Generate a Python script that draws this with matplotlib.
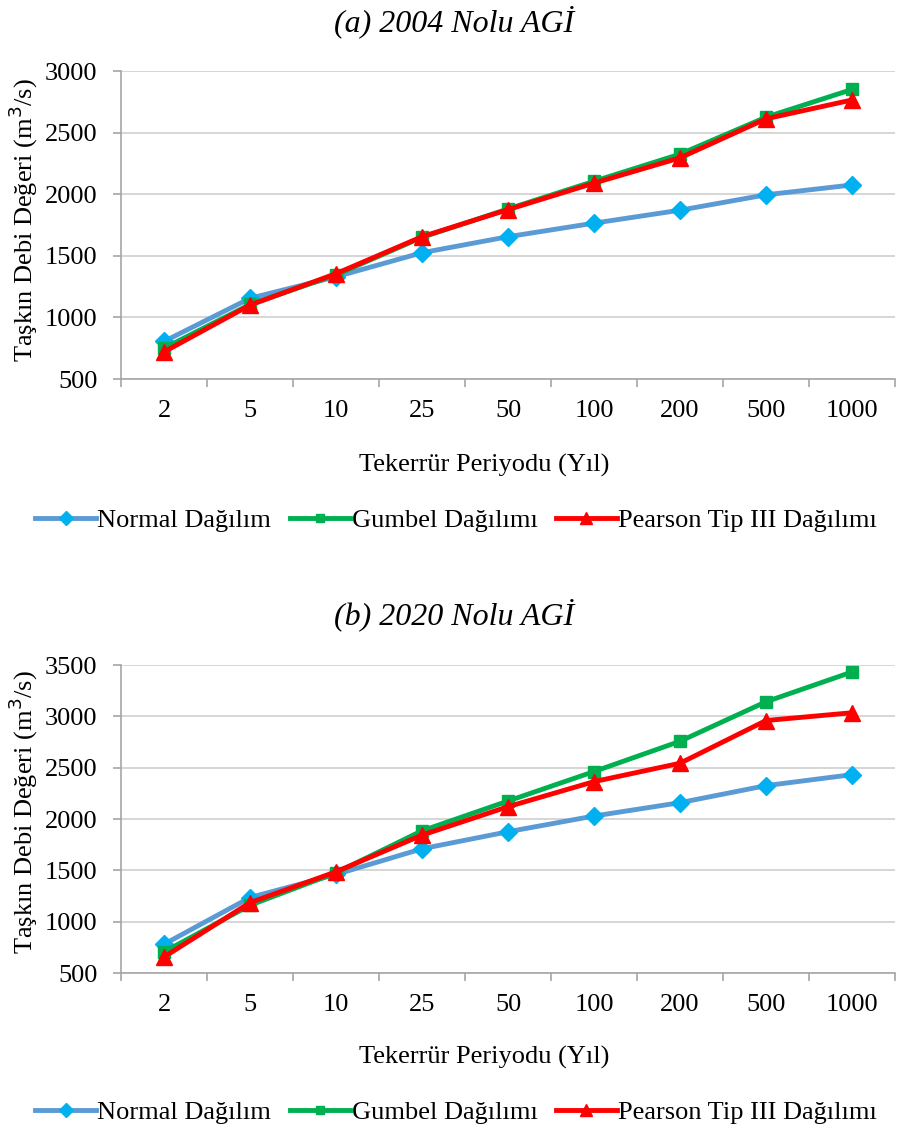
import matplotlib as mpl
mpl.use('Agg')
import matplotlib.pyplot as plt
from matplotlib.ticker import FixedLocator, NullFormatter

plt.rcParams['font.family'] = ['Liberation Serif', 'DejaVu Serif']

periods = ['2', '5', '10', '25', '50', '100', '200', '500', '1000']

# (a) 2004 Nolu AGI
normal_a = [805, 1155, 1330, 1525, 1655, 1765, 1870, 1995, 2075]
gumbel_a = [750, 1105, 1345, 1650, 1880, 2105, 2325, 2625, 2850]
pearson_a = [720, 1100, 1355, 1655, 1875, 2090, 2295, 2612, 2765]

# (b) 2020 Nolu AGI
normal_b = [780, 1235, 1460, 1710, 1876, 2029, 2159, 2325, 2432]
gumbel_b = [705, 1160, 1476, 1885, 2175, 2462, 2757, 3142, 3432]
pearson_b = [656, 1185, 1486, 1843, 2120, 2364, 2543, 2959, 3035]

series_names = ['Normal Dağılım', 'Gumbel Dağılımı', 'Pearson Tip III Dağılımı']
line_colors = ['#5B9BD5', '#00B050', '#FF0000']
marker_colors = ['#00B0F0', '#00B050', '#FF0000']
markers = ['D', 's', '^']
marker_sizes = [9, 8.5, 11]

W, H = 897, 1130
FS = 19
fig = plt.figure(figsize=(W / 100, H / 100), dpi=100)


def px(x, y):
    return x / W, 1 - y / H


def make_panel(top, data, ymin, ymax, title, title_y, ylab_y, xlab_y, legend_y):
    ax = fig.add_axes([121 / W, 1 - (top + 308) / H, 774 / W, 308 / H])
    x = list(range(len(periods)))
    handles = []
    for vals, lc, mc, m, ms, name in zip(data, line_colors, marker_colors,
                                         markers, marker_sizes, series_names):
        h, = ax.plot(x, vals, color=lc, lw=3.5, marker=m, ms=ms,
                     markerfacecolor=mc, markeredgecolor=mc, label=name)
        handles.append(h)
    ax.set_xlim(-0.5, len(periods) - 0.5)
    ax.set_ylim(ymin, ymax)
    ax.set_yticks(range(ymin, ymax + 1, 500))
    ax.set_xticks(x)
    ax.set_xticklabels(periods, fontsize=FS)
    ax.tick_params(axis='x', length=0, pad=15)
    ax.xaxis.set_minor_locator(FixedLocator([i - 0.5 for i in range(len(periods) + 1)]))
    ax.xaxis.set_minor_formatter(NullFormatter())
    ax.tick_params(axis='x', which='minor', length=6, color='#a6a6a6', width=1.2)
    ax.tick_params(axis='y', labelsize=FS, length=6, color='#a6a6a6', width=1.2, pad=11)
    ax.grid(axis='y', color='#d0d0d0', lw=1.2)
    ax.set_axisbelow(True)
    for s in ['top', 'right']:
        ax.spines[s].set_visible(False)
    for s in ['left', 'bottom']:
        ax.spines[s].set_color('#a6a6a6')
        ax.spines[s].set_linewidth(1.2)
    fig.text(*px(454, title_y), title, fontsize=23, style='italic',
             ha='center', va='center')
    fig.text(*px(23, ylab_y), 'Taşkın Debi Değeri (m$^3$/s)', fontsize=FS,
             rotation=90, ha='center', va='center')
    fig.text(*px(484, xlab_y), 'Tekerrür Periyodu (Yıl)', fontsize=FS,
             ha='center', va='center')
    fig.legend(handles=handles, loc='center', bbox_to_anchor=px(456, legend_y),
               ncol=3, frameon=False, fontsize=FS, handlelength=2.3,
               handletextpad=0.05, columnspacing=0.7, markerscale=0.75)
    return ax


make_panel(71, [normal_a, gumbel_a, pearson_a], 500, 3000,
           '(a) 2004 Nolu AGİ', 22, 220, 465, 520)
make_panel(665, [normal_b, gumbel_b, pearson_b], 500, 3500,
           '(b) 2020 Nolu AGİ', 615, 812, 1057, 1112)

fig.savefig('out.png', dpi=100)
